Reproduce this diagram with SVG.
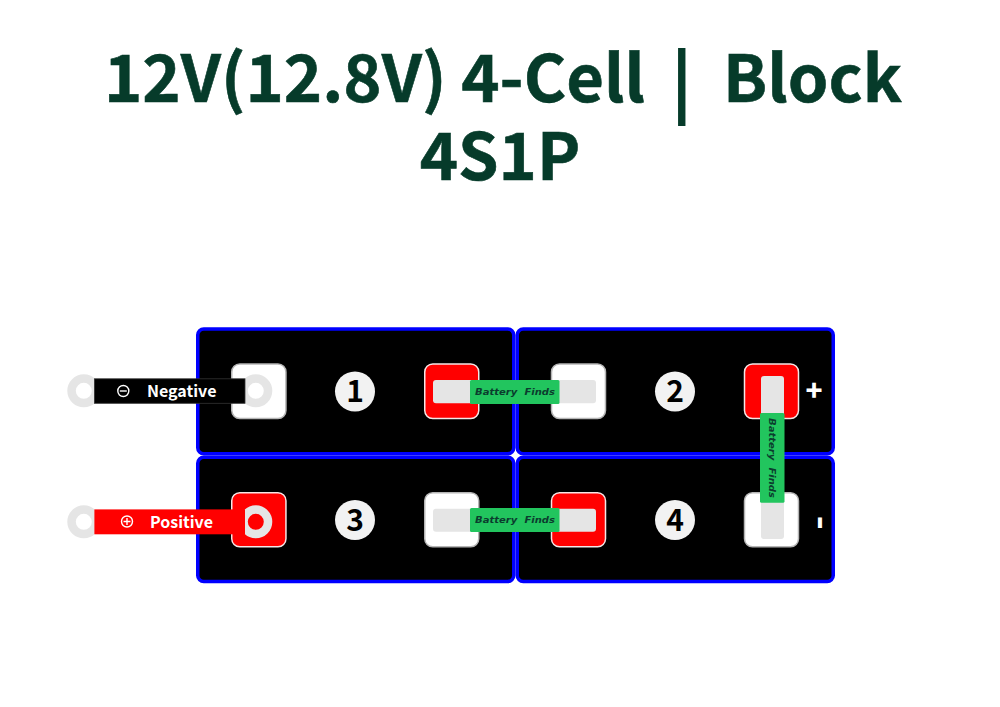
<svg xmlns="http://www.w3.org/2000/svg" width="1000" height="707" viewBox="0 0 1000 707">
<style>
.title{font:700 65px "Noto Sans CJK SC","Noto Sans",sans-serif;fill:#063b2a;stroke:#063b2a;stroke-width:.6}
.sep{font-size:74px;stroke-width:4}
.cell{fill:#000;stroke:#0000ff;stroke-width:3.5}
.tp{fill:#ff0000;stroke:#f5e6e6;stroke-width:1.5}
.tn{fill:#fff;stroke:#b5b5b5;stroke-width:1.5}
.pad{fill:#e5e5e5}
.bar{fill:#22c55e}
.bt{font:italic 700 8px "DejaVu Sans",sans-serif;fill:#0b3d2e;text-anchor:middle;word-spacing:3px}
.badge{fill:#f2f2f2}
.num{font:700 30px "Noto Sans CJK SC","Noto Sans",sans-serif;fill:#000;text-anchor:middle}
.pol{font:900 28px "Noto Sans CJK SC","Noto Sans",sans-serif;fill:#fff;text-anchor:middle}
.lab{font:700 16px "Noto Sans CJK SC","Noto Sans",sans-serif;fill:#fff}
.sym{fill:none;stroke:#fff;stroke-width:1.4}
.ring{fill:none;stroke:#e5e5e5;stroke-width:8.500}
</style>
<text class="title" x="104" y="102">12V(12.8V) 4-Cell<tspan class="sep" x="644.700" y="115">｜</tspan><tspan x="723" y="102">Block</tspan></text>
<text class="title" x="500" y="180" text-anchor="middle">4S1P</text>
<g id="cell1"><rect class="cell" x="197.750" y="329" width="316" height="124.750" rx="6"/><rect class="tn" x="231.750" y="364" width="54.200" height="54.500" rx="8"/><rect class="tp" x="424.750" y="364" width="54" height="54.500" rx="8"/><circle class="badge" cx="355" cy="391.500" r="20"/><text class="num" x="355" y="402">1</text></g>
<g id="cell2"><rect class="cell" x="517.250" y="329" width="316" height="124.750" rx="6"/><rect class="tn" x="551.500" y="364" width="54" height="54.500" rx="8"/><rect class="tp" x="744.500" y="364" width="54" height="54.500" rx="8"/><circle class="badge" cx="675" cy="391.500" r="20"/><text class="num" x="675" y="402">2</text><text class="pol" x="814" y="401">+</text></g>
<g id="cell3"><rect class="cell" x="197.750" y="457.250" width="316" height="124.250" rx="6"/><rect class="tp" x="231.750" y="492.750" width="54.200" height="54" rx="8"/><rect class="tn" x="424.750" y="492.750" width="54" height="54" rx="8"/><circle class="badge" cx="355" cy="520" r="20"/><text class="num" x="355" y="530.500">3</text></g>
<g id="cell4"><rect class="cell" x="517.250" y="457.250" width="316" height="124.250" rx="6"/><rect class="tp" x="551.500" y="492.750" width="54" height="54" rx="8"/><rect class="tn" x="744.500" y="492.750" width="54" height="54" rx="8"/><circle class="badge" cx="675" cy="520" r="20"/><text class="num" x="675" y="530.500">4</text><text class="pol" transform="translate(820,546.500) scale(.5,3)" x="0" y="0">-</text></g>
<g id="connectors">
<rect class="pad" x="433" y="380" width="163" height="23.300" rx="3"/>
<rect class="bar" x="470" y="380" width="89.500" height="24" rx="1.500"/>
<text class="bt" x="515" y="395" textLength="80" lengthAdjust="spacingAndGlyphs">Battery Finds</text>
<rect class="pad" x="433" y="508.700" width="163" height="23" rx="3"/>
<rect class="bar" x="470" y="508" width="89.500" height="24" rx="1.500"/>
<text class="bt" x="515" y="523" textLength="80" lengthAdjust="spacingAndGlyphs">Battery Finds</text>
<rect class="pad" x="761" y="376" width="23" height="163" rx="3"/>
<rect class="bar" x="760" y="413" width="24.500" height="89.700" rx="1.500"/>
<text class="bt" transform="translate(769,458) rotate(90)" x="0" y="0" textLength="80" lengthAdjust="spacingAndGlyphs">Battery Finds</text>
</g>
<g id="negative"><circle class="ring" cx="83.800" cy="390.800" r="12.250"/><circle class="ring" cx="255.800" cy="390.800" r="12.250"/><rect x="94.400" y="378.800" width="150.600" height="24.500" fill="#000" stroke="#333" stroke-width="0.800"/><circle class="sym" cx="123.300" cy="391" r="5.500"/><path class="sym" d="M119.800 391h7"/><text class="lab" x="147" y="396.500">Negative</text></g>
<g id="positive"><circle class="ring" cx="83.800" cy="521.800" r="12.250"/><circle class="ring" cx="255.800" cy="521.800" r="12.250"/><rect x="94.400" y="509.400" width="150.600" height="24.900" fill="#ff0000"/><circle class="sym" cx="127" cy="521.500" r="5.500"/><path class="sym" d="M123.500 521.500h7M127 518v7"/><text class="lab" x="150" y="527.500">Positive</text></g>
</svg>
